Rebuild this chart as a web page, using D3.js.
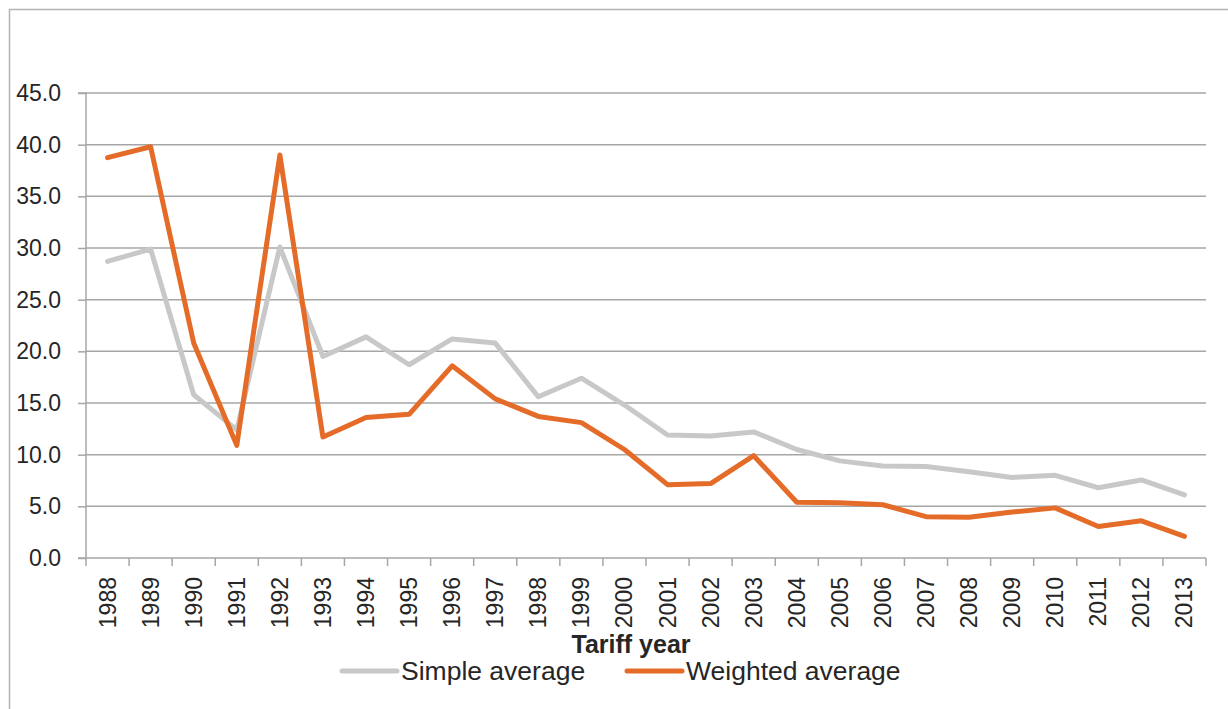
<!DOCTYPE html>
<html>
<head>
<meta charset="utf-8">
<script src="https://cdnjs.cloudflare.com/ajax/libs/d3/7.8.5/d3.min.js"></script>
<style>
  html, body { margin: 0; padding: 0; background: #fff; }
  svg { display: block; font-family: "Liberation Sans", Arial, sans-serif; }
</style>
</head>
<body>
<script>
'use strict';
// chart data
let years = ['1988','1989','1990','1991','1992','1993','1994','1995','1996','1997','1998','1999','2000',
	'2001','2002','2003','2004','2005','2006','2007','2008','2009','2010','2011','2012','2013'];
let simpleAvg = [28.7, 29.9, 15.8, 12.4, 30.1, 19.5, 21.4, 18.7, 21.2, 20.8, 15.6, 17.4, 14.8,
	11.9, 11.8, 12.2, 10.5, 9.4, 8.9, 8.85, 8.35, 7.8, 8.0, 6.8, 7.55, 6.1];
let weightedAvg = [38.75, 39.8, 20.8, 10.9, 39.0, 11.7, 13.6, 13.9, 18.6, 15.4, 13.7, 13.1, 10.5,
	7.1, 7.2, 9.9, 5.4, 5.35, 5.15, 4.0, 3.95, 4.45, 4.85, 3.05, 3.6, 2.1];
let yTicks = [0, 5, 10, 15, 20, 25, 30, 35, 40, 45];
let seriesNames = ['Simple average', 'Weighted average'];

let width = 1228, height = 709;
let margin = {left: 86, right: 22, top: 93, bottom: 151};
let plotW = width - margin.left - margin.right;
let plotH = height - margin.top - margin.bottom;

let svg = d3.select('body').append('svg').attr('width', width).attr('height', height);

// outer frame (top + left edge visible)
svg.append('path')
	.attr('d', 'M9.5,' + height + 'V9.5H' + width)
	.attr('fill', 'none')
	.attr('stroke', '#b4b4b4')
	.attr('stroke-width', 1.5);

let x = d3.scaleBand().domain(years).range([0, plotW]);
let y = d3.scaleLinear().domain([0, 45]).range([plotH, 0]);

let g = svg.append('g').attr('transform', 'translate(' + margin.left + ',' + margin.top + ')');

// horizontal gridlines
g.append('g').selectAll('line').data(yTicks.slice(1)).enter().append('line')
	.attr('x1', 0).attr('x2', plotW)
	.attr('y1', function(d){ return y(d); }).attr('y2', function(d){ return y(d); })
	.attr('stroke', '#a6a6a6').attr('stroke-width', 1.5);

// y axis
let yAxis = d3.axisLeft(y).tickValues(yTicks).tickSize(8).tickPadding(17).tickFormat(d3.format('.1f'));
let yg = g.append('g').call(yAxis);
yg.select('.domain').attr('stroke', '#a6a6a6').attr('stroke-width', 1.5).attr('d', 'M-8,' + plotH + 'H0V0H-8');
yg.selectAll('.tick line').attr('stroke', '#a6a6a6').attr('stroke-width', 1.5);
yg.selectAll('.tick text').attr('font-size', 23).attr('fill', '#262626');

// x axis: ticks on band boundaries
let xg = g.append('g').attr('transform', 'translate(0,' + plotH + ')');
xg.append('line').attr('x1', 0).attr('x2', plotW).attr('stroke', '#a6a6a6').attr('stroke-width', 1.5);
let bounds = years.map(function(d){ return x(d); }).concat([plotW]);
xg.selectAll('line.tk').data(bounds).enter().append('line').attr('class', 'tk')
	.attr('x1', function(d){ return d; }).attr('x2', function(d){ return d; })
	.attr('y1', 0).attr('y2', 8)
	.attr('stroke', '#a6a6a6').attr('stroke-width', 1.5);
xg.selectAll('text').data(years).enter().append('text')
	.attr('transform', function(d){ return 'translate(' + (x(d) + x.bandwidth() / 2 + 8) + ',19) rotate(-90)'; })
	.attr('text-anchor', 'end')
	.attr('font-size', 23).attr('fill', '#262626')
	.text(function(d){ return d; });

// x axis title
svg.append('text')
	.attr('x', 631).attr('y', 653)
	.attr('text-anchor', 'middle')
	.attr('font-size', 25).attr('font-weight', 'bold').attr('fill', '#262626')
	.text('Tariff year');

// lines
let line = d3.line()
	.x(function(d, i){ return x(years[i]) + x.bandwidth() / 2; })
	.y(function(d){ return y(d); });

let colors = ['#c8c8c8', '#e46c28'];
[simpleAvg, weightedAvg].forEach(function(s, i){
	g.append('path')
		.attr('d', line(s))
		.attr('fill', 'none')
		.attr('stroke', colors[i])
		.attr('stroke-width', 5)
		.attr('stroke-linejoin', 'round')
		.attr('stroke-linecap', 'round');
});

// legend
let legendX = [342, 627];
seriesNames.forEach(function(name, i){
	let lg = svg.append('g').attr('transform', 'translate(' + legendX[i] + ',671)');
	lg.append('line').attr('x1', 0).attr('x2', 55)
		.attr('stroke', colors[i]).attr('stroke-width', 5).attr('stroke-linecap', 'round');
	lg.append('text').attr('x', 59).attr('y', 9)
		.attr('font-size', 26.5).attr('fill', '#262626')
		.text(name);
});
</script>
</body>
</html>
